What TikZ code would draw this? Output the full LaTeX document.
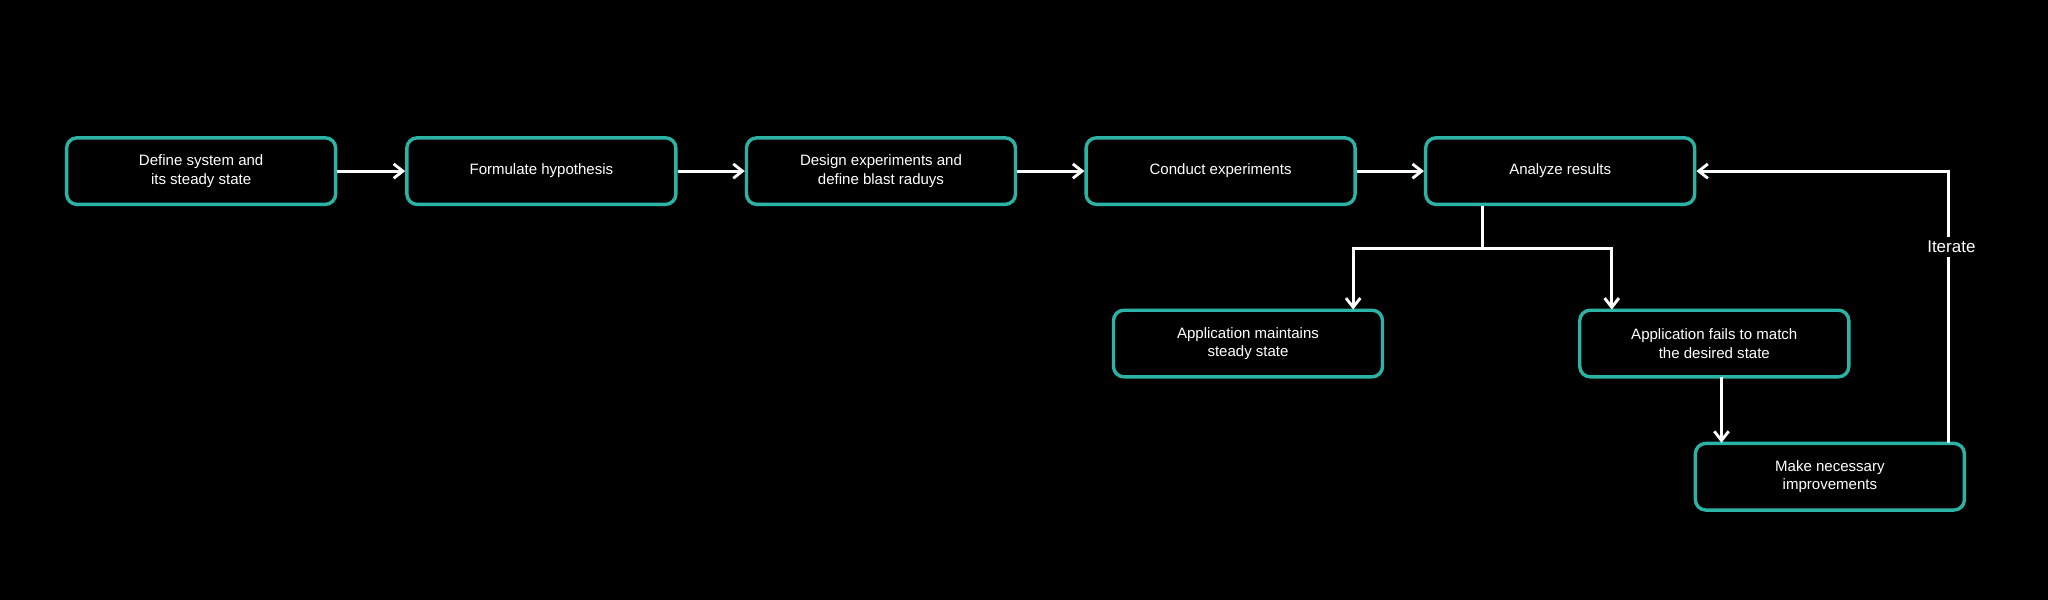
\documentclass[tikz,border=0pt]{standalone}
\usepackage{fontspec}
\setmainfont{Liberation Sans}
\usetikzlibrary{arrows.meta}
\definecolor{teal}{HTML}{2BB3A5}
\begin{document}
\begin{tikzpicture}[x=1pt,y=-1pt,
  box/.style={draw=teal,line width=2.6pt,rounded corners=8pt,fill=black,text=white,
    minimum width=206pt,minimum height=51pt,align=center,font=\fontsize{11.5}{14}\selectfont,inner sep=2pt},
  conn/.style={draw=white,line width=2.4pt,-{Straight Barb[length=7pt,width=11pt,line width=2.2pt]}}]
\fill[black] (0,0) rectangle (1568,459);
\useasboundingbox (0,0) rectangle (1568,459);
\node[box] (a) at (154,131) {Define system and\\its steady state};
\node[box] (b) at (414.5,131) {Formulate hypothesis};
\node[box] (c) at (674.5,131) {Design experiments and\\define blast raduys};
\node[box] (d) at (934.5,131) {Conduct experiments};
\node[box] (e) at (1194.5,131) {Analyze results};
\node[box] (f) at (955.5,263) {Application maintains\\steady state};
\node[box] (g) at (1312.5,263) {Application fails to match\\the desired state};
\node[box] (h) at (1401,365) {Make necessary\\improvements};
\draw[conn] (a) -- (b);
\draw[conn] (b) -- (c);
\draw[conn] (c) -- (d);
\draw[conn] (d) -- (e);
\coordinate (s) at (1135,190);
\draw[white,line width=2.4pt] (e.south -| s) -- (s);
\draw[conn] (1034.8,190) -- (1036,190) -- (1036,237);
\draw[white,line width=2.4pt] (1034.8,190) -- (1235.2,190);
\draw[conn] (1234,190) -- (1234,237);
\draw[conn] (1318,289) -- (1318,339);
\draw[conn] (1492,339) -- (1492,131) -- (e.east);
\node[fill=black,text=white,font=\fontsize{13}{15}\selectfont,inner sep=3pt] (it) at (1494,189) {Iterate};
\end{tikzpicture}
\end{document}
